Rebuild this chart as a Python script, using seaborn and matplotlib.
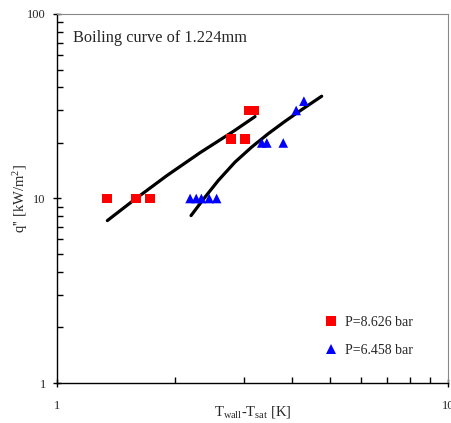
import matplotlib
matplotlib.use("Agg")
import matplotlib.pyplot as plt
import seaborn as sns
import pandas as pd
from matplotlib.ticker import LogLocator, NullFormatter, FixedLocator, FixedFormatter

sns.set_style("white")
plt.rcParams['font.family'] = ['Liberation Serif', 'DejaVu Serif']
plt.rcParams['mathtext.fontset'] = 'custom'
plt.rcParams['mathtext.rm'] = 'Liberation Serif'
plt.rcParams['mathtext.it'] = 'Liberation Serif:italic'

# Data
red_label = "P=8.626 bar"
blue_label = "P=6.458 bar"
red_dT = [1.34, 1.59, 1.73, 2.79, 3.03, 3.09, 3.20]
red_q = [10, 10, 10, 21, 21, 30, 30]
blue_dT = [2.19, 2.27, 2.34, 2.45, 2.56, 3.34, 3.44, 3.79, 4.09, 4.28]
blue_q = [10, 10, 10, 10, 10, 20, 20, 20, 30, 33.7]
red_fit_dT = [1.345, 1.567, 1.909, 2.321, 2.824, 3.21]
red_fit_q = [7.59, 9.75, 13.3, 17.7, 23.1, 27.8]
blue_fit_dT = [2.202, 2.390, 2.586, 2.853, 3.147, 3.471, 3.829, 4.225, 4.753]
blue_fit_q = [8.08, 10.16, 12.53, 15.75, 19.0, 22.47, 26.2, 30.3, 35.84]

pts = pd.DataFrame({
    "dT": red_dT + blue_dT,
    "q": red_q + blue_q,
    "series": [red_label] * len(red_dT) + [blue_label] * len(blue_dT),
})
fits = pd.DataFrame({
    "dT": red_fit_dT + blue_fit_dT,
    "q": red_fit_q + blue_fit_q,
    "fit": ["r"] * len(red_fit_dT) + ["b"] * len(blue_fit_dT),
})

fig = plt.figure(figsize=(4.51, 4.23), dpi=100)
ax = fig.add_axes([57/451, 40/423, 391/451, 369/423])
ax.set_xscale("log")
ax.set_yscale("log")

sns.lineplot(data=fits, x="dT", y="q", units="fit", estimator=None, sort=False,
             color="black", linewidth=2.3, ax=ax, legend=False)
sns.scatterplot(data=pts, x="dT", y="q", hue="series", style="series",
                palette={red_label: "#FF0000", blue_label: "#0000FF"},
                markers={red_label: "s", blue_label: "^"},
                s=48, linewidth=0, ax=ax, zorder=3)

ax.set_xlim(1, 10)
ax.set_ylim(1, 100)

for side in ["top", "right"]:
    ax.spines[side].set_color("#888888")
    ax.spines[side].set_linewidth(0.8)
for side in ["left", "bottom"]:
    ax.spines[side].set_color("black")
    ax.spines[side].set_linewidth(1.0)

ax.xaxis.set_major_locator(FixedLocator([1, 10]))
ax.xaxis.set_major_formatter(FixedFormatter(["1", "10"]))
ax.yaxis.set_major_locator(FixedLocator([1, 10, 100]))
ax.yaxis.set_major_formatter(FixedFormatter(["1", "10", "100"]))
ax.xaxis.set_minor_locator(LogLocator(base=10, subs=range(2, 10)))
ax.yaxis.set_minor_locator(LogLocator(base=10, subs=range(2, 10)))
ax.xaxis.set_minor_formatter(NullFormatter())
ax.yaxis.set_minor_formatter(NullFormatter())
ax.tick_params(axis="both", which="major", direction="inout", length=6, width=1,
               labelsize=9, color="black", pad=5)
ax.tick_params(axis="both", which="minor", direction="in", length=4, width=1, color="black")
ax.tick_params(top=False, right=False, which="both", bottom=True, left=True)
ax.tick_params(axis="x", which="major", pad=9)

ax.set_xlabel(r"T$_{\rm wall}$-T$_{\rm sat}$ [K]", fontsize=10.5)
ax.xaxis.set_label_coords(0.5, -0.056)
ax.set_ylabel(r"q'' [kW/m$^2$]", fontsize=10.5)
ax.yaxis.set_label_coords(-0.068, 0.5)

ax.text((73 - 57) / 391, 1 - (38 - 14) / 369, "Boiling curve of 1.224mm",
        transform=ax.transAxes, fontsize=11.8, va="center", ha="left")

leg = ax.legend(loc="upper left", bbox_to_anchor=((324 - 57) / 391, (383 - 316) / 369),
                frameon=False, fontsize=10, handlelength=1.0, handletextpad=0.5,
                labelspacing=1.1, borderaxespad=0, borderpad=0)

fig.savefig("out.png", dpi=100)
